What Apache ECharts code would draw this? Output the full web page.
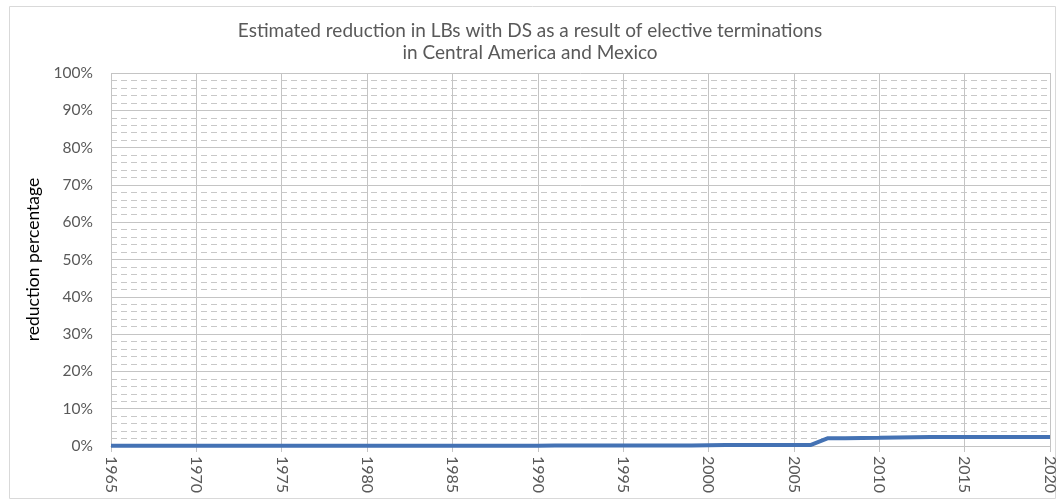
<!DOCTYPE html>
<html>
<head>
<meta charset="utf-8">
<script src="https://cdn.jsdelivr.net/npm/echarts@6/dist/echarts.min.js"></script>
<style>
  html, body { margin: 0; padding: 0; background: #fff; }
  #chart { width: 1060px; height: 501px; }
</style>
</head>
<body>
<div id="chart"></div>
<script>
const years = [
  1965, 1966, 1967, 1968, 1969, 1970, 1971, 1972, 1973, 1974,
  1975, 1976, 1977, 1978, 1979, 1980, 1981, 1982, 1983, 1984,
  1985, 1986, 1987, 1988, 1989, 1990, 1991, 1992, 1993, 1994,
  1995, 1996, 1997, 1998, 1999, 2000, 2001, 2002, 2003, 2004,
  2005, 2006, 2007, 2008, 2009, 2010, 2011, 2012, 2013, 2014,
  2015, 2016, 2017, 2018, 2019, 2020
]

// reduction percentage per year
const reduction = [
  0.1, 0.1, 0.1, 0.1, 0.1, 0.1, 0.1, 0.1, 0.1, 0.1,
  0.1, 0.1, 0.1, 0.1, 0.1, 0.1, 0.1, 0.1, 0.1, 0.1,
  0.1, 0.1, 0.1, 0.1, 0.1, 0.1, 0.15, 0.15, 0.15, 0.15,
  0.15, 0.15, 0.15, 0.15, 0.15, 0.2, 0.25, 0.25, 0.3, 0.3,
  0.3, 0.3, 2.1, 2.1, 2.15, 2.2, 2.3, 2.35, 2.4, 2.4,
  2.4, 2.4, 2.4, 2.4, 2.4, 2.4
]

const titleLines = [
  'Estimated reduction in LBs with DS as a result of elective terminations',
  'in Central America and Mexico'
]

const textColor = '#595959'
const gridColor = '#c4c4c4'
const fontFamily = 'Lato, "Open Sans", sans-serif'

const chart = echarts.init(document.getElementById('chart'))

const option = {
  animation: false,
  textStyle: { fontFamily: fontFamily },
  title: {
    text: titleLines.join('\n'),
    left: 'center',
    top: 15,
    textStyle: {
      color: textColor,
      fontSize: 19,
      fontWeight: 'normal',
      lineHeight: 22,
      fontFamily: fontFamily
    }
  },
  graphic: [
    {
      type: 'rect',
      left: 7,
      top: 4,
      shape: { width: 1046, height: 492 },
      style: { fill: 'none', stroke: '#d9d9d9', lineWidth: 1 },
      silent: true
    }
  ],
  grid: {
    left: 111,
    top: 73,
    right: 10,
    bottom: 55
  },
  xAxis: {
    type: 'value',
    min: 1965,
    max: 2020,
    interval: 5,
    axisLine: { show: true, lineStyle: { color: gridColor } },
    axisTick: { show: true, length: 6, lineStyle: { color: gridColor } },
    axisLabel: {
      rotate: -90,
      color: textColor,
      fontSize: 16,
      margin: 10,
      formatter: v => String(v)
    },
    splitLine: { show: true, lineStyle: { color: gridColor, width: 1 } }
  },
  yAxis: {
    type: 'value',
    min: 0,
    max: 100,
    interval: 10,
    name: 'reduction percentage',
    nameLocation: 'middle',
    nameRotate: 90,
    nameGap: 62,
    nameTextStyle: { color: '#000', fontSize: 17.5 },
    axisLine: { show: false },
    axisTick: { show: false },
    axisLabel: {
      color: textColor,
      fontSize: 15.5,
      margin: 18,
      formatter: '{value}%'
    },
    splitLine: { show: true, lineStyle: { color: gridColor, width: 1 } },
    minorTick: { show: false, splitNumber: 5 },
    minorSplitLine: {
      show: true,
      lineStyle: { color: '#c8c8c8', width: 1, type: [6, 4] }
    }
  },
  series: [
    {
      type: 'line',
      data: years.map((y, i) => [y, reduction[i]]),
      showSymbol: false,
      symbol: 'none',
      lineStyle: { color: '#4472b4', width: 4 },
      itemStyle: { color: '#4472b4' },
      z: 5
    }
  ]
}

chart.setOption(option)
</script>
</body>
</html>
